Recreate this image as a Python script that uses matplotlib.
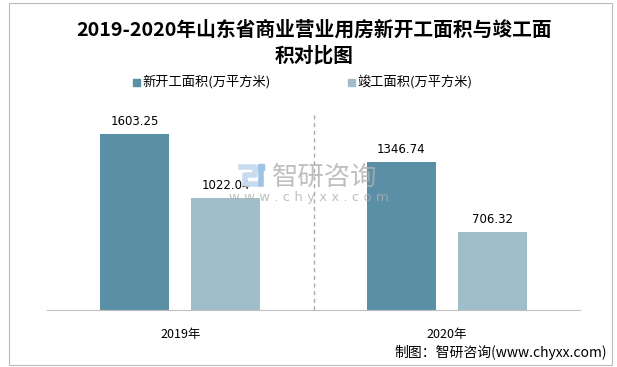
import numpy as np
import matplotlib.pyplot as plt
from matplotlib.patches import Rectangle
from matplotlib.lines import Line2D

plt.rcParams['font.family'] = ['Noto Sans CJK SC', 'DejaVu Sans']

years = ['2019年', '2020年']
series_names = ['新开工面积(万平方米)', '竣工面积(万平方米)']
new_start = [1603.25, 1346.74]
completed = [1022.04, 706.32]
colors = ['#5B8FA6', '#A0BDCA']

W, H = 617, 367
fig = plt.figure(figsize=(W / 100, H / 100), dpi=100)
ax = fig.add_axes([47 / W, 1 - 310 / H, 533 / W, 198 / H])

x = np.arange(len(years))
bw = 0.259
off = 0.171
b1 = ax.bar(x - off, new_start, bw, color=colors[0], label=series_names[0])
b2 = ax.bar(x + off, completed, bw, color=colors[1], label=series_names[1])

for bars, vals in ((b1, new_start), (b2, completed)):
    for r, v in zip(bars, vals):
        ax.text(r.get_x() + r.get_width() / 2, v + 55, f'{v:.2f}',
                ha='center', va='bottom', fontsize=8.5, family='DejaVu Sans', zorder=5)

ax.set_xlim(-0.5, 1.5)
ax.set_ylim(0, 1800)
ax.axvline(0.5, color='#AAAAAA', ls=(0, (3, 2.5)), lw=1)
for s in ['top', 'right', 'left']:
    ax.spines[s].set_visible(False)
ax.spines['bottom'].set_color('#BFBFBF')
ax.set_yticks([])
ax.set_xticks(x)
ax.set_xticklabels(years, fontsize=9)
ax.tick_params(axis='x', length=0, pad=13)

# title
fig.text(314 / W, 1 - 30 / H, '2019-2020年山东省商业营业用房新开工面积与竣工面',
         ha='center', va='center', fontsize=14.2, fontweight='bold')
fig.text(314 / W, 1 - 56 / H, '积对比图',
         ha='center', va='center', fontsize=14.2, fontweight='bold')

# legend
for i, (name, c) in enumerate(zip(series_names, colors)):
    lx = [133, 348][i]
    fig.patches.append(Rectangle((lx / W, 1 - 86 / H), 7 / W, 7 / H,
                                 color=c, transform=fig.transFigure))
    fig.text((lx + 9) / W, 1 - 82 / H, name, ha='left', va='center', fontsize=9.5)

# watermark logo (drawn as strokes)
def px(xs, ys):
    return [v / W for v in xs], [1 - v / H for v in ys]
logo = [([241, 255, 255, 245, 245, 258], [167, 167, 175, 175, 184, 184]),
        ([261, 261], [172, 184])]
for (xs, ys), c in zip(logo, ['#C8DBEE', '#9EC3E6']):
    fx, fy = px(xs, ys)
    fig.lines.append(Line2D(fx, fy, color=c, lw=4, transform=fig.transFigure))
fx, fy = px([261], [167])
fig.lines.append(Line2D(fx, fy, color='#9EC3E6', marker='s', ms=4, lw=0,
                        transform=fig.transFigure))

fig.text(325 / W, 1 - 177 / H, '智研咨询', ha='center', va='center', fontsize=19,
         color='#B0B0B0', alpha=0.8)
fig.text(309 / W, 1 - 198 / H, 'w w w . c h y x x . c o m', ha='center', va='center',
         fontsize=9.5, color='#B0B0B0', alpha=0.8, family='DejaVu Sans')

# footer
fig.text(607 / W, 1 - 352 / H, '制图：智研咨询(www.chyxx.com)', ha='right', va='center',
         fontsize=10)

# border
fig.patches.append(Rectangle((9 / W, 2 / H), 603 / W, 362 / H, fill=False,
                             ec='#BBBBBB', lw=0.8, transform=fig.transFigure))

fig.savefig('out.png', dpi=100)
